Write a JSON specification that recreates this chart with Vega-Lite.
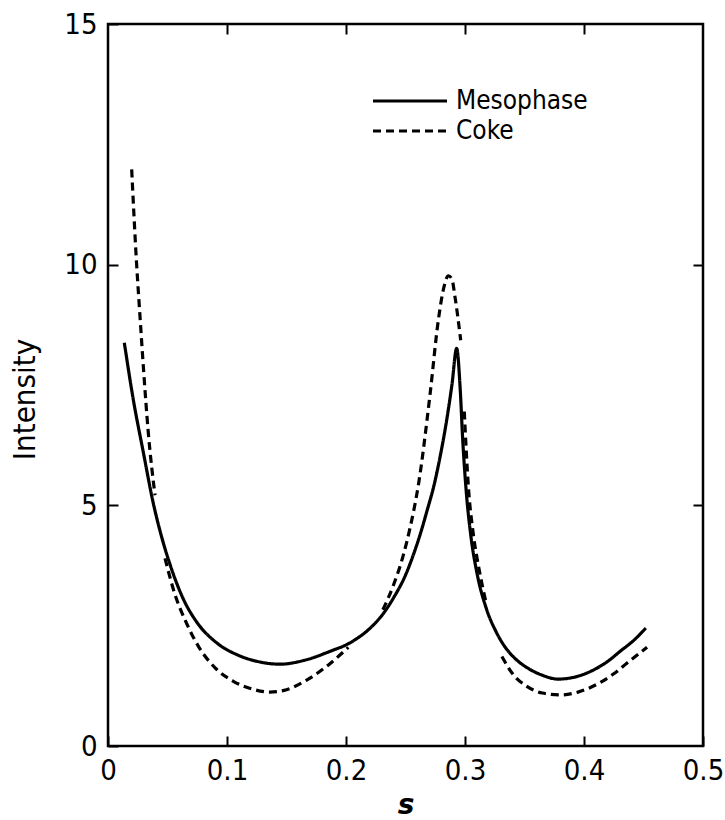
{
  "$schema": "https://vega.github.io/schema/vega-lite/v6.json",
  "width": 595,
  "height": 722,
  "autosize": {"type": "none"},
  "padding": {"left": 108, "top": 24, "right": 22, "bottom": 74},
  "background": "white",
  "config": {
    "view": {"stroke": "black", "strokeWidth": 2.5},
    "axis": {
      "domain": false,
      "grid": false,
      "tickColor": "black",
      "tickWidth": 2,
      "tickSize": -10,
      "labelFont": "DejaVu Sans Condensed",
      "labelFontSize": 29,
      "labelColor": "black",
      "labelFlush": false,
      "labelOverlap": false,
      "titleColor": "black"
    }
  },
  "data": {
    "values": [
      {"s": 0.0137, "I": 8.38, "series": "Mesophase", "seg": "m"},
      {"s": 0.0213, "I": 7.19, "series": "Mesophase", "seg": "m"},
      {"s": 0.0297, "I": 6.1, "series": "Mesophase", "seg": "m"},
      {"s": 0.038, "I": 5.05, "series": "Mesophase", "seg": "m"},
      {"s": 0.045, "I": 4.35, "series": "Mesophase", "seg": "m"},
      {"s": 0.052, "I": 3.78, "series": "Mesophase", "seg": "m"},
      {"s": 0.063, "I": 3.07, "series": "Mesophase", "seg": "m"},
      {"s": 0.075, "I": 2.56, "series": "Mesophase", "seg": "m"},
      {"s": 0.091, "I": 2.15, "series": "Mesophase", "seg": "m"},
      {"s": 0.11, "I": 1.88, "series": "Mesophase", "seg": "m"},
      {"s": 0.125, "I": 1.76, "series": "Mesophase", "seg": "m"},
      {"s": 0.1445, "I": 1.7, "series": "Mesophase", "seg": "m"},
      {"s": 0.165, "I": 1.78, "series": "Mesophase", "seg": "m"},
      {"s": 0.189, "I": 1.99, "series": "Mesophase", "seg": "m"},
      {"s": 0.2, "I": 2.1, "series": "Mesophase", "seg": "m"},
      {"s": 0.209, "I": 2.23, "series": "Mesophase", "seg": "m"},
      {"s": 0.219, "I": 2.42, "series": "Mesophase", "seg": "m"},
      {"s": 0.231, "I": 2.74, "series": "Mesophase", "seg": "m"},
      {"s": 0.24, "I": 3.08, "series": "Mesophase", "seg": "m"},
      {"s": 0.25, "I": 3.55, "series": "Mesophase", "seg": "m"},
      {"s": 0.257, "I": 4.0, "series": "Mesophase", "seg": "m"},
      {"s": 0.263, "I": 4.45, "series": "Mesophase", "seg": "m"},
      {"s": 0.268, "I": 4.88, "series": "Mesophase", "seg": "m"},
      {"s": 0.274, "I": 5.42, "series": "Mesophase", "seg": "m"},
      {"s": 0.279, "I": 6.0, "series": "Mesophase", "seg": "m"},
      {"s": 0.2846, "I": 6.77, "series": "Mesophase", "seg": "m"},
      {"s": 0.289, "I": 7.5, "series": "Mesophase", "seg": "m"},
      {"s": 0.293, "I": 8.26, "series": "Mesophase", "seg": "m"},
      {"s": 0.296, "I": 7.4, "series": "Mesophase", "seg": "m"},
      {"s": 0.298, "I": 6.4, "series": "Mesophase", "seg": "m"},
      {"s": 0.301, "I": 5.3, "series": "Mesophase", "seg": "m"},
      {"s": 0.305, "I": 4.35, "series": "Mesophase", "seg": "m"},
      {"s": 0.31, "I": 3.6, "series": "Mesophase", "seg": "m"},
      {"s": 0.318, "I": 2.85, "series": "Mesophase", "seg": "m"},
      {"s": 0.326, "I": 2.38, "series": "Mesophase", "seg": "m"},
      {"s": 0.333, "I": 2.08, "series": "Mesophase", "seg": "m"},
      {"s": 0.342, "I": 1.82, "series": "Mesophase", "seg": "m"},
      {"s": 0.352, "I": 1.63, "series": "Mesophase", "seg": "m"},
      {"s": 0.365, "I": 1.47, "series": "Mesophase", "seg": "m"},
      {"s": 0.378, "I": 1.39, "series": "Mesophase", "seg": "m"},
      {"s": 0.39, "I": 1.42, "series": "Mesophase", "seg": "m"},
      {"s": 0.408, "I": 1.58, "series": "Mesophase", "seg": "m"},
      {"s": 0.42, "I": 1.76, "series": "Mesophase", "seg": "m"},
      {"s": 0.43, "I": 1.96, "series": "Mesophase", "seg": "m"},
      {"s": 0.442, "I": 2.2, "series": "Mesophase", "seg": "m"},
      {"s": 0.452, "I": 2.45, "series": "Mesophase", "seg": "m"},

      {"s": 0.0199, "I": 11.98, "series": "Coke", "seg": "c1"},
      {"s": 0.024, "I": 10.03, "series": "Coke", "seg": "c1"},
      {"s": 0.0269, "I": 8.92, "series": "Coke", "seg": "c1"},
      {"s": 0.0297, "I": 7.88, "series": "Coke", "seg": "c1"},
      {"s": 0.0339, "I": 6.5, "series": "Coke", "seg": "c1"},
      {"s": 0.0395, "I": 5.21, "series": "Coke", "seg": "c1"},

      {"s": 0.0479, "I": 3.9, "series": "Coke", "seg": "c2"},
      {"s": 0.056, "I": 3.17, "series": "Coke", "seg": "c2"},
      {"s": 0.066, "I": 2.55, "series": "Coke", "seg": "c2"},
      {"s": 0.076, "I": 2.07, "series": "Coke", "seg": "c2"},
      {"s": 0.091, "I": 1.6, "series": "Coke", "seg": "c2"},
      {"s": 0.105, "I": 1.35, "series": "Coke", "seg": "c2"},
      {"s": 0.119, "I": 1.2, "series": "Coke", "seg": "c2"},
      {"s": 0.136, "I": 1.12, "series": "Coke", "seg": "c2"},
      {"s": 0.15, "I": 1.17, "series": "Coke", "seg": "c2"},
      {"s": 0.167, "I": 1.37, "series": "Coke", "seg": "c2"},
      {"s": 0.185, "I": 1.68, "series": "Coke", "seg": "c2"},
      {"s": 0.202, "I": 2.05, "series": "Coke", "seg": "c2"},

      {"s": 0.231, "I": 2.83, "series": "Coke", "seg": "c3"},
      {"s": 0.24, "I": 3.35, "series": "Coke", "seg": "c3"},
      {"s": 0.248, "I": 3.95, "series": "Coke", "seg": "c3"},
      {"s": 0.254, "I": 4.55, "series": "Coke", "seg": "c3"},
      {"s": 0.261, "I": 5.45, "series": "Coke", "seg": "c3"},
      {"s": 0.2706, "I": 7.3, "series": "Coke", "seg": "c3"},
      {"s": 0.2776, "I": 8.85, "series": "Coke", "seg": "c3"},
      {"s": 0.282, "I": 9.5, "series": "Coke", "seg": "c3"},
      {"s": 0.286, "I": 9.77, "series": "Coke", "seg": "c3"},
      {"s": 0.289, "I": 9.7, "series": "Coke", "seg": "c3"},
      {"s": 0.2916, "I": 9.33, "series": "Coke", "seg": "c3"},
      {"s": 0.2964, "I": 8.43, "series": "Coke", "seg": "c3"},

      {"s": 0.2994, "I": 6.95, "series": "Coke", "seg": "c4"},
      {"s": 0.3028, "I": 5.4, "series": "Coke", "seg": "c4"},
      {"s": 0.307, "I": 4.4, "series": "Coke", "seg": "c4"},
      {"s": 0.312, "I": 3.65, "series": "Coke", "seg": "c4"},
      {"s": 0.318, "I": 2.95, "series": "Coke", "seg": "c4"},

      {"s": 0.331, "I": 1.86, "series": "Coke", "seg": "c5"},
      {"s": 0.34, "I": 1.5, "series": "Coke", "seg": "c5"},
      {"s": 0.352, "I": 1.24, "series": "Coke", "seg": "c5"},
      {"s": 0.365, "I": 1.1, "series": "Coke", "seg": "c5"},
      {"s": 0.38, "I": 1.06, "series": "Coke", "seg": "c5"},
      {"s": 0.395, "I": 1.12, "series": "Coke", "seg": "c5"},
      {"s": 0.413, "I": 1.31, "series": "Coke", "seg": "c5"},
      {"s": 0.425, "I": 1.5, "series": "Coke", "seg": "c5"},
      {"s": 0.436, "I": 1.72, "series": "Coke", "seg": "c5"},
      {"s": 0.453, "I": 2.05, "series": "Coke", "seg": "c5"}
    ]
  },
  "layer": [
    {
      "mark": {"type": "line", "color": "black", "strokeWidth": 3.2, "interpolate": "monotone"},
      "encoding": {
        "x": {
          "field": "s", "type": "quantitative",
          "scale": {"domain": [0, 0.5], "nice": false, "zero": false},
          "axis": {
            "orient": "bottom",
            "values": [0, 0.1, 0.2, 0.3, 0.4, 0.5],
            "labelExpr": "datum.value == 0 ? '0' : format(datum.value, '.1f')",
            "labelPadding": 20,
            "title": "s",
            "titleFont": "DejaVu Sans",
            "titleFontSize": 28,
            "titleFontWeight": "bold",
            "titleFontStyle": "italic",
            "titlePadding": 6
          }
        },
        "y": {
          "field": "I", "type": "quantitative",
          "scale": {"domain": [0, 15], "nice": false},
          "axis": {
            "orient": "left",
            "values": [0, 5, 10, 15],
            "format": "d",
            "labelPadding": 21,
            "title": "Intensity",
            "titleFont": "DejaVu Sans Condensed",
            "titleFontSize": 31,
            "titleFontWeight": "normal",
            "titlePadding": 22,
            "titleY": 375
          }
        },
        "strokeDash": {
          "field": "series", "type": "nominal",
          "scale": {"domain": ["Mesophase", "Coke"], "range": [[1, 0], [8, 5]]},
          "legend": {
            "title": null,
            "orient": "none",
            "legendX": 289,
            "legendY": 64,
            "padding": 0,
            "symbolType": "M-5,0H5",
            "symbolSize": 219,
            "symbolStrokeWidth": 3,
            "symbolStrokeColor": "black",
            "symbolFillColor": "transparent",
            "labelFont": "DejaVu Sans Condensed",
            "labelFontSize": 26,
            "labelColor": "black",
            "labelOffset": 33,
            "rowPadding": 4
          }
        },
        "detail": {"field": "seg", "type": "nominal"}
      }
    },
    {
      "mark": {"type": "point", "opacity": 0},
      "encoding": {
        "x": {
          "field": "s", "type": "quantitative",
          "axis": {"orient": "top", "values": [0.1, 0.2, 0.3, 0.4], "labels": false, "title": null}
        },
        "y": {
          "field": "I", "type": "quantitative",
          "axis": {"orient": "right", "values": [5, 10], "labels": false, "title": null}
        }
      }
    }
  ]
}
